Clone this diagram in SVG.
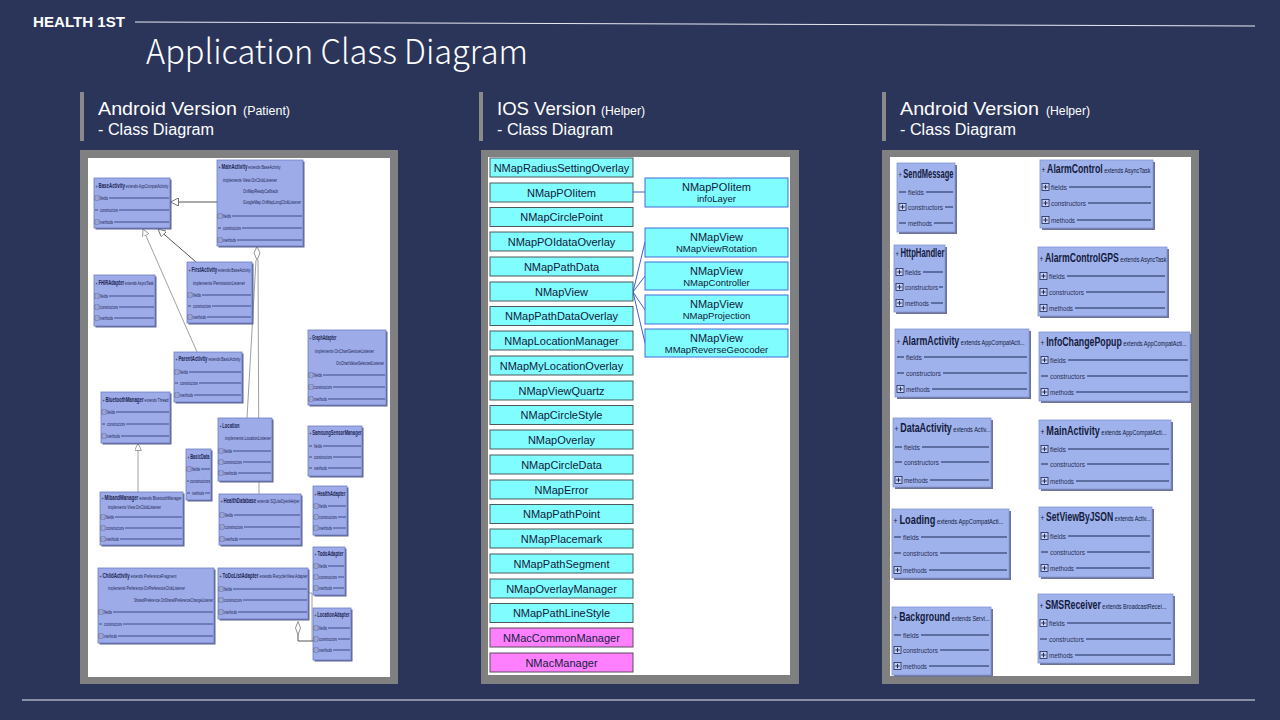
<svg xmlns="http://www.w3.org/2000/svg" width="1280" height="720" viewBox="0 0 1280 720">
<style>
.hd{font-family:"Noto Sans CJK KR","Noto Sans","Liberation Sans",sans-serif;fill:#ffffff}
.sec{font-family:"Liberation Sans",Arial,sans-serif;fill:#ffffff}
.frame{fill:#808080}
.paper{fill:#ffffff}
.bx{fill:#9dabe8;stroke:#6e7ec4;stroke-width:0.8}
.sh{fill:#5d6690}
.lh{font-family:"Liberation Sans",Arial,sans-serif;font-size:5px;fill:#1c2452}
.ln{font-weight:bold;font-size:6.3px}
.lr{font-family:"Liberation Sans",Arial,sans-serif;font-size:5px;fill:#1c2452}
.rl{stroke:#2b3674;stroke-width:0.8}
.rbx{fill:#9fb2ec;stroke:#8494d2;stroke-width:0.8}
.rsh{fill:#6c7397}
.rh{font-family:"Liberation Sans",Arial,sans-serif;font-size:7.5px;fill:#141a3c}
.rn{font-weight:bold;font-size:12px}
.rp{font-size:9px}
.rr{font-family:"Liberation Sans",Arial,sans-serif;font-size:7px;fill:#2a2f55}
.rrl{stroke:#1f2a55;stroke-width:1}
.cy{fill:#80fdff;stroke:#4a5a5c;stroke-width:1}
.mg{fill:#ff80ff;stroke:#5a4a5a;stroke-width:1}
.cyb{fill:#80fdff;stroke:#3f6fd8;stroke-width:1}
.mt{font-family:"Liberation Sans",Arial,sans-serif;font-size:11px;fill:#10203a;text-anchor:middle}
.mt2{font-family:"Liberation Sans",Arial,sans-serif;font-size:9.5px;fill:#10203a;text-anchor:middle}
.gen{stroke:#555;stroke-width:1;fill:none}
.gen2{stroke:#888;stroke-width:0.8;fill:none}
.blue{stroke:#3f5fd0;stroke-width:1;fill:none}
</style>
<defs>
<g id="mb"><rect x="0" y="0" width="4" height="4" fill="#c8d0f4" stroke="#2b3674" stroke-width="0.5"/><line x1="0.8" y1="2" x2="3.2" y2="2" stroke="#2b3674" stroke-width="0.6"/></g>
<g id="pb"><rect x="0" y="0" width="7" height="7" fill="#c8d2f6" stroke="#1f2a55" stroke-width="0.8"/><line x1="1.3" y1="3.5" x2="5.7" y2="3.5" stroke="#1f2a55" stroke-width="1"/><line x1="3.5" y1="1.3" x2="3.5" y2="5.7" stroke="#1f2a55" stroke-width="1"/></g>
<marker id="tri" viewBox="0 0 10 10" refX="10" refY="5" markerWidth="8" markerHeight="8" markerUnits="userSpaceOnUse" orient="auto"><path d="M0,0 L10,5 L0,10 Z" fill="#ffffff" stroke="#555" stroke-width="1"/></marker>
<marker id="tri2" viewBox="0 0 10 10" refX="10" refY="5" markerWidth="7" markerHeight="7" markerUnits="userSpaceOnUse" orient="auto"><path d="M0,0 L10,5 L0,10 Z" fill="#ffffff" stroke="#777" stroke-width="1"/></marker>
</defs>
<rect x="0" y="0" width="1280" height="720" fill="#2b355a"/>

<g id="header">
<text x="33" y="27" font-family="'Liberation Sans',Arial,sans-serif" font-weight="bold" font-size="15" fill="#ffffff" textLength="92" lengthAdjust="spacingAndGlyphs">HEALTH 1ST</text>
<line x1="135" y1="22" x2="1255" y2="26" stroke="#e8eaf2" stroke-width="1"/>
<text class="hd" x="146" y="64" font-size="34" font-weight="300" textLength="382" lengthAdjust="spacingAndGlyphs">Application Class Diagram</text>
<line x1="22" y1="700" x2="1255" y2="700" stroke="#e8eaf2" stroke-width="1"/>
</g>

<g id="sec-android-patient">
<rect x="80" y="92" width="4" height="49" fill="#8a8a8a"/>
<text class="sec" x="98" y="115" font-size="19" textLength="139" lengthAdjust="spacingAndGlyphs">Android Version</text>
<text class="sec" x="243" y="115" font-size="12" textLength="47" lengthAdjust="spacingAndGlyphs">(Patient)</text>
<text class="sec" x="98" y="135" font-size="16" textLength="116" lengthAdjust="spacingAndGlyphs">- Class Diagram</text>
</g>
<g id="sec-ios-helper">
<rect x="479" y="92" width="4" height="49" fill="#8a8a8a"/>
<text class="sec" x="497" y="115" font-size="19" textLength="99" lengthAdjust="spacingAndGlyphs">IOS Version</text>
<text class="sec" x="601" y="115" font-size="12" textLength="44" lengthAdjust="spacingAndGlyphs">(Helper)</text>
<text class="sec" x="497" y="135" font-size="16" textLength="116" lengthAdjust="spacingAndGlyphs">- Class Diagram</text>
</g>
<g id="sec-android-helper">
<rect x="882" y="92" width="4" height="49" fill="#8a8a8a"/>
<text class="sec" x="900" y="115" font-size="19" textLength="139" lengthAdjust="spacingAndGlyphs">Android Version</text>
<text class="sec" x="1046" y="115" font-size="12" textLength="44" lengthAdjust="spacingAndGlyphs">(Helper)</text>
<text class="sec" x="900" y="135" font-size="16" textLength="116" lengthAdjust="spacingAndGlyphs">- Class Diagram</text>
</g>

<g id="panels">
<rect class="frame" x="80" y="150" width="318" height="534"/>
<rect class="paper" x="88" y="158" width="302" height="519"/>
<rect class="frame" x="481" y="150" width="318" height="534"/>
<rect class="paper" x="488" y="157" width="302" height="518"/>
<rect class="frame" x="882" y="150" width="317" height="534"/>
<rect class="paper" x="890" y="157" width="301" height="519"/>
</g>

<g id="connectors">
<line class="gen" x1="217" y1="202" x2="170.5" y2="202" marker-end="url(#tri)"/>
<line class="gen" x1="196" y1="262" x2="158" y2="229" marker-end="url(#tri)"/>
<line class="gen2" x1="197" y1="352" x2="143" y2="229" marker-end="url(#tri2)"/>
<line class="gen2" x1="138" y1="492" x2="138" y2="443.5" marker-end="url(#tri2)"/>
<path class="gen2" d="M256,260 L247,418"/>
<path class="gen2" d="M258,260 L259,494"/>
<path d="M257,246.5 L260,253 L257,260 L254,253 Z" fill="#ffffff" stroke="#777" stroke-width="0.8"/>
<path class="gen2" d="M308,593 L312,593 L312,641 L313,641"/>
<path class="gen" d="M298,635 L298,641 L313,641"/>
<path d="M298,621.5 L300.5,628 L298,635 L295.5,628 Z" fill="#ffffff" stroke="#777" stroke-width="0.8"/>
<line class="blue" x1="633" y1="192" x2="645" y2="192"/>
<line class="blue" x1="633" y1="292" x2="645" y2="242"/>
<line class="blue" x1="633" y1="292" x2="645" y2="276"/>
<line class="blue" x1="633" y1="292" x2="645" y2="310"/>
<line class="blue" x1="633" y1="292" x2="645" y2="343"/>
</g>

<!-- LEFT PANEL -->
<g id="n-baseactivity">
<rect class="sh" x="95.5" y="179.5" width="76" height="50"/><rect class="bx" x="94" y="178" width="76" height="50"/>
<text class="lh" transform="translate(95.5 188) scale(0.68 1)" textLength="107" lengthAdjust="spacingAndGlyphs">+ <tspan class="ln">BaseActivity</tspan> extends AppCompatActivity</text>
<use href="#mb" x="95" y="196"/><text class="lr" transform="translate(100 199.8) scale(0.68 1)" textLength="11.8" lengthAdjust="spacingAndGlyphs">fields</text><line class="rl" x1="109" y1="198" x2="169" y2="198"/>
<line class="rl" x1="95" y1="210" x2="98" y2="210"/><text class="lr" transform="translate(100 211.8) scale(0.68 1)" textLength="26.5" lengthAdjust="spacingAndGlyphs">constructors</text><line class="rl" x1="119" y1="210" x2="169" y2="210"/>
<use href="#mb" x="95" y="220"/><text class="lr" transform="translate(100 223.8) scale(0.68 1)" textLength="19.1" lengthAdjust="spacingAndGlyphs">methods</text><line class="rl" x1="114" y1="222" x2="169" y2="222"/>
</g>

<g id="n-mainactivity">
<rect class="sh" x="218.5" y="161.5" width="86" height="86"/><rect class="bx" x="217" y="160" width="86" height="86"/>
<text class="lh" transform="translate(218.5 169) scale(0.68 1)" textLength="91.2" lengthAdjust="spacingAndGlyphs">+ <tspan class="ln">MainActivity</tspan> extends BaseActivity</text>
<text class="lh" transform="translate(223 182) scale(0.68 1)" textLength="79.4" lengthAdjust="spacingAndGlyphs">implements  View.OnClickListener</text>
<text class="lh" transform="translate(243 193) scale(0.68 1)" textLength="51.5" lengthAdjust="spacingAndGlyphs">OnMapReadyCallback</text>
<text class="lh" transform="translate(243 204) scale(0.68 1)" textLength="85.3" lengthAdjust="spacingAndGlyphs">GoogleMap.OnMapLongClickListener</text>
<use href="#mb" x="218" y="214"/><text class="lr" transform="translate(223 217.8) scale(0.68 1)" textLength="11.8" lengthAdjust="spacingAndGlyphs">fields</text><line class="rl" x1="232" y1="216" x2="302" y2="216"/>
<line class="rl" x1="218" y1="228" x2="221" y2="228"/><text class="lr" transform="translate(223 229.8) scale(0.68 1)" textLength="26.5" lengthAdjust="spacingAndGlyphs">constructors</text><line class="rl" x1="242" y1="228" x2="302" y2="228"/>
<use href="#mb" x="218" y="238"/><text class="lr" transform="translate(223 241.8) scale(0.68 1)" textLength="19.1" lengthAdjust="spacingAndGlyphs">methods</text><line class="rl" x1="237" y1="240" x2="302" y2="240"/>
</g>

<g id="n-fhiradapter">
<rect class="sh" x="95.5" y="276.5" width="61" height="51"/><rect class="bx" x="94" y="275" width="61" height="51"/>
<text class="lh" transform="translate(95.5 285) scale(0.68 1)" textLength="85.3" lengthAdjust="spacingAndGlyphs">+ <tspan class="ln">FHIRAdapter</tspan> extends AsyncTask</text>
<use href="#mb" x="95" y="294"/><text class="lr" transform="translate(100 297.8) scale(0.68 1)" textLength="11.8" lengthAdjust="spacingAndGlyphs">fields</text><line class="rl" x1="109" y1="296" x2="154" y2="296"/>
<use href="#mb" x="95" y="305"/><text class="lr" transform="translate(100 308.8) scale(0.68 1)" textLength="26.5" lengthAdjust="spacingAndGlyphs">constructors</text><line class="rl" x1="119" y1="307" x2="154" y2="307"/>
<use href="#mb" x="95" y="316"/><text class="lr" transform="translate(100 319.8) scale(0.68 1)" textLength="19.1" lengthAdjust="spacingAndGlyphs">methods</text><line class="rl" x1="114" y1="318" x2="154" y2="318"/>
</g>

<g id="n-firstactivity">
<rect class="sh" x="188.5" y="263.5" width="65" height="61"/><rect class="bx" x="187" y="262" width="65" height="61"/>
<text class="lh" transform="translate(188.5 272) scale(0.68 1)" textLength="91.2" lengthAdjust="spacingAndGlyphs">+ <tspan class="ln">FirstActivity</tspan> extends BaseActivity</text>
<text class="lh" transform="translate(193 285) scale(0.68 1)" textLength="76.5" lengthAdjust="spacingAndGlyphs">implements  PermissionListener</text>
<use href="#mb" x="188" y="293"/><text class="lr" transform="translate(193 296.8) scale(0.68 1)" textLength="11.8" lengthAdjust="spacingAndGlyphs">fields</text><line class="rl" x1="202" y1="295" x2="251" y2="295"/>
<line class="rl" x1="188" y1="306" x2="191" y2="306"/><text class="lr" transform="translate(193 307.8) scale(0.68 1)" textLength="26.5" lengthAdjust="spacingAndGlyphs">constructors</text><line class="rl" x1="212" y1="306" x2="251" y2="306"/>
<use href="#mb" x="188" y="315"/><text class="lr" transform="translate(193 318.8) scale(0.68 1)" textLength="19.1" lengthAdjust="spacingAndGlyphs">methods</text><line class="rl" x1="207" y1="317" x2="251" y2="317"/>
</g>

<g id="n-parentactivity">
<rect class="sh" x="175.5" y="353.5" width="68" height="50"/><rect class="bx" x="174" y="352" width="68" height="50"/>
<text class="lh" transform="translate(175.5 361) scale(0.68 1)" textLength="95.6" lengthAdjust="spacingAndGlyphs">+ <tspan class="ln">ParentActivity</tspan> extends BasicActivity</text>
<use href="#mb" x="175" y="370"/><text class="lr" transform="translate(180 373.8) scale(0.68 1)" textLength="11.8" lengthAdjust="spacingAndGlyphs">fields</text><line class="rl" x1="189" y1="372" x2="241" y2="372"/>
<line class="rl" x1="175" y1="383" x2="178" y2="383"/><text class="lr" transform="translate(180 384.8) scale(0.68 1)" textLength="26.5" lengthAdjust="spacingAndGlyphs">constructors</text><line class="rl" x1="199" y1="383" x2="241" y2="383"/>
<use href="#mb" x="175" y="393"/><text class="lr" transform="translate(180 396.8) scale(0.68 1)" textLength="19.1" lengthAdjust="spacingAndGlyphs">methods</text><line class="rl" x1="194" y1="395" x2="241" y2="395"/>
</g>

<g id="n-bluetoothmanager">
<rect class="sh" x="102.5" y="393.5" width="69" height="51"/><rect class="bx" x="101" y="392" width="69" height="51"/>
<text class="lh" transform="translate(102.5 402) scale(0.68 1)" textLength="97" lengthAdjust="spacingAndGlyphs">+ <tspan class="ln">BluetoothManager</tspan> extends Thread</text>
<use href="#mb" x="102" y="410"/><text class="lr" transform="translate(107 413.8) scale(0.68 1)" textLength="11.8" lengthAdjust="spacingAndGlyphs">fields</text><line class="rl" x1="116" y1="412" x2="169" y2="412"/>
<line class="rl" x1="102" y1="424" x2="105" y2="424"/><text class="lr" transform="translate(107 425.8) scale(0.68 1)" textLength="26.5" lengthAdjust="spacingAndGlyphs">constructors</text><line class="rl" x1="126" y1="424" x2="169" y2="424"/>
<use href="#mb" x="102" y="434"/><text class="lr" transform="translate(107 437.8) scale(0.68 1)" textLength="19.1" lengthAdjust="spacingAndGlyphs">methods</text><line class="rl" x1="121" y1="436" x2="169" y2="436"/>
</g>

<g id="n-graphadapter">
<rect class="sh" x="309.5" y="331.5" width="78" height="75"/><rect class="bx" x="308" y="330" width="78" height="75"/>
<text class="lh" transform="translate(309.5 340) scale(0.68 1)" textLength="39.7" lengthAdjust="spacingAndGlyphs">+ <tspan class="ln">GraphAdapter</tspan></text>
<text class="lh" transform="translate(315 353) scale(0.68 1)" textLength="86.8" lengthAdjust="spacingAndGlyphs">implements  OnChartGestureListener</text>
<text class="lh" transform="translate(336 365) scale(0.68 1)" textLength="70.6" lengthAdjust="spacingAndGlyphs">OnChartValueSelectedListener</text>
<use href="#mb" x="309" y="373"/><text class="lr" transform="translate(314 376.8) scale(0.68 1)" textLength="11.8" lengthAdjust="spacingAndGlyphs">fields</text><line class="rl" x1="323" y1="375" x2="385" y2="375"/>
<use href="#mb" x="309" y="385"/><text class="lr" transform="translate(314 388.8) scale(0.68 1)" textLength="26.5" lengthAdjust="spacingAndGlyphs">constructors</text><line class="rl" x1="333" y1="387" x2="385" y2="387"/>
<use href="#mb" x="309" y="397"/><text class="lr" transform="translate(314 400.8) scale(0.68 1)" textLength="19.1" lengthAdjust="spacingAndGlyphs">methods</text><line class="rl" x1="328" y1="399" x2="385" y2="399"/>
</g>

<g id="n-samsungsensormanager">
<rect class="sh" x="309.5" y="427.5" width="54" height="50"/><rect class="bx" x="308" y="426" width="54" height="50"/>
<text class="lh" transform="translate(309.5 435) scale(0.68 1)" textLength="76.5" lengthAdjust="spacingAndGlyphs">+ <tspan class="ln">SamsungSensorManager</tspan></text>
<line class="rl" x1="309" y1="446" x2="312" y2="446"/><text class="lr" transform="translate(314 447.8) scale(0.68 1)" textLength="11.8" lengthAdjust="spacingAndGlyphs">fields</text><line class="rl" x1="323" y1="446" x2="361" y2="446"/>
<line class="rl" x1="309" y1="457" x2="312" y2="457"/><text class="lr" transform="translate(314 458.8) scale(0.68 1)" textLength="26.5" lengthAdjust="spacingAndGlyphs">constructors</text><line class="rl" x1="333" y1="457" x2="361" y2="457"/>
<line class="rl" x1="309" y1="468" x2="312" y2="468"/><text class="lr" transform="translate(314 469.8) scale(0.68 1)" textLength="19.1" lengthAdjust="spacingAndGlyphs">methods</text><line class="rl" x1="328" y1="468" x2="361" y2="468"/>
</g>

<g id="n-location">
<rect class="sh" x="219.5" y="419.5" width="54" height="63"/><rect class="bx" x="218" y="418" width="54" height="63"/>
<text class="lh" transform="translate(219.5 428) scale(0.68 1)" textLength="29.4" lengthAdjust="spacingAndGlyphs">+ <tspan class="ln">Location</tspan></text>
<text class="lh" transform="translate(225 440) scale(0.68 1)" textLength="67.6" lengthAdjust="spacingAndGlyphs">implements  LocationListener</text>
<use href="#mb" x="219" y="449"/><text class="lr" transform="translate(224 452.8) scale(0.68 1)" textLength="11.8" lengthAdjust="spacingAndGlyphs">fields</text><line class="rl" x1="233" y1="451" x2="271" y2="451"/>
<use href="#mb" x="219" y="460"/><text class="lr" transform="translate(224 463.8) scale(0.68 1)" textLength="26.5" lengthAdjust="spacingAndGlyphs">constructors</text><line class="rl" x1="243" y1="462" x2="271" y2="462"/>
<use href="#mb" x="219" y="471"/><text class="lr" transform="translate(224 474.8) scale(0.68 1)" textLength="19.1" lengthAdjust="spacingAndGlyphs">methods</text><line class="rl" x1="238" y1="473" x2="271" y2="473"/>
</g>

<g id="n-basicdata">
<rect class="sh" x="187.5" y="450.5" width="25" height="51"/><rect class="bx" x="186" y="449" width="25" height="51"/>
<text class="lh" transform="translate(187.5 459) scale(0.68 1)" textLength="32.4" lengthAdjust="spacingAndGlyphs">+ <tspan class="ln">BasicData</tspan></text>
<use href="#mb" x="187" y="467"/><text class="lr" transform="translate(192 470.8) scale(0.68 1)" textLength="11.8" lengthAdjust="spacingAndGlyphs">fields</text><line class="rl" x1="201" y1="469" x2="210" y2="469"/>
<line class="rl" x1="187" y1="481" x2="189" y2="481"/><text class="lr" transform="translate(190 482.8) scale(0.68 1)" textLength="29.4" lengthAdjust="spacingAndGlyphs">constructors</text>
<line class="rl" x1="187" y1="493" x2="190" y2="493"/><text class="lr" transform="translate(192 494.8) scale(0.68 1)" textLength="17.6" lengthAdjust="spacingAndGlyphs">methods</text><line class="rl" x1="205" y1="493" x2="210" y2="493"/>
</g>

<g id="n-mibandmanager">
<rect class="sh" x="101.5" y="493.5" width="83" height="53"/><rect class="bx" x="100" y="492" width="83" height="53"/>
<text class="lh" transform="translate(101.5 500) scale(0.68 1)" textLength="117.6" lengthAdjust="spacingAndGlyphs">+ <tspan class="ln">MibandManager</tspan> extends BluetoothManager</text>
<text class="lh" transform="translate(108 509) scale(0.68 1)" textLength="78" lengthAdjust="spacingAndGlyphs">implements  View.OnClickListener</text>
<use href="#mb" x="101" y="515"/><text class="lr" transform="translate(106 518.8) scale(0.68 1)" textLength="11.8" lengthAdjust="spacingAndGlyphs">fields</text><line class="rl" x1="115" y1="517" x2="182" y2="517"/>
<use href="#mb" x="101" y="526"/><text class="lr" transform="translate(106 529.8) scale(0.68 1)" textLength="26.5" lengthAdjust="spacingAndGlyphs">constructors</text><line class="rl" x1="125" y1="528" x2="182" y2="528"/>
<use href="#mb" x="101" y="537"/><text class="lr" transform="translate(106 540.8) scale(0.68 1)" textLength="19.1" lengthAdjust="spacingAndGlyphs">methods</text><line class="rl" x1="120" y1="539" x2="182" y2="539"/>
</g>

<g id="n-healthdatabase">
<rect class="sh" x="220.5" y="495.5" width="82" height="51"/><rect class="bx" x="219" y="494" width="82" height="51"/>
<text class="lh" transform="translate(220.5 503) scale(0.68 1)" textLength="116.2" lengthAdjust="spacingAndGlyphs">+ <tspan class="ln">HealthDatabase</tspan> extends SQLiteOpenHelper</text>
<use href="#mb" x="220" y="513"/><text class="lr" transform="translate(225 516.8) scale(0.68 1)" textLength="11.8" lengthAdjust="spacingAndGlyphs">fields</text><line class="rl" x1="234" y1="515" x2="300" y2="515"/>
<use href="#mb" x="220" y="525"/><text class="lr" transform="translate(225 528.8) scale(0.68 1)" textLength="26.5" lengthAdjust="spacingAndGlyphs">constructors</text><line class="rl" x1="244" y1="527" x2="300" y2="527"/>
<use href="#mb" x="220" y="537"/><text class="lr" transform="translate(225 540.8) scale(0.68 1)" textLength="19.1" lengthAdjust="spacingAndGlyphs">methods</text><line class="rl" x1="239" y1="539" x2="300" y2="539"/>
</g>

<g id="n-healthadapter">
<rect class="sh" x="314.5" y="487.5" width="34" height="49"/><rect class="bx" x="313" y="486" width="34" height="49"/>
<text class="lh" transform="translate(314.5 496) scale(0.68 1)" textLength="45.6" lengthAdjust="spacingAndGlyphs">+ <tspan class="ln">HealthAdapter</tspan></text>
<use href="#mb" x="314" y="504"/><text class="lr" transform="translate(319 507.8) scale(0.68 1)" textLength="11.8" lengthAdjust="spacingAndGlyphs">fields</text><line class="rl" x1="328" y1="506" x2="346" y2="506"/>
<use href="#mb" x="314" y="515"/><text class="lr" transform="translate(319 518.8) scale(0.68 1)" textLength="26.5" lengthAdjust="spacingAndGlyphs">constructors</text><line class="rl" x1="338" y1="517" x2="346" y2="517"/>
<use href="#mb" x="314" y="526"/><text class="lr" transform="translate(319 529.8) scale(0.68 1)" textLength="19.1" lengthAdjust="spacingAndGlyphs">methods</text><line class="rl" x1="333" y1="528" x2="346" y2="528"/>
</g>

<g id="n-todoadapter">
<rect class="sh" x="314.5" y="548.5" width="32" height="48"/><rect class="bx" x="313" y="547" width="32" height="48"/>
<text class="lh" transform="translate(314.5 556) scale(0.68 1)" textLength="42.6" lengthAdjust="spacingAndGlyphs">+ <tspan class="ln">TodoAdapter</tspan></text>
<use href="#mb" x="314" y="564"/><text class="lr" transform="translate(319 567.8) scale(0.68 1)" textLength="11.8" lengthAdjust="spacingAndGlyphs">fields</text><line class="rl" x1="328" y1="566" x2="344" y2="566"/>
<use href="#mb" x="314" y="575"/><text class="lr" transform="translate(319 578.8) scale(0.68 1)" textLength="26.5" lengthAdjust="spacingAndGlyphs">constructors</text><line class="rl" x1="338" y1="577" x2="344" y2="577"/>
<use href="#mb" x="314" y="586"/><text class="lr" transform="translate(319 589.8) scale(0.68 1)" textLength="19.1" lengthAdjust="spacingAndGlyphs">methods</text><line class="rl" x1="333" y1="588" x2="344" y2="588"/>
</g>

<g id="n-locationadapter">
<rect class="sh" x="314.5" y="609.5" width="38" height="52"/><rect class="bx" x="313" y="608" width="38" height="52"/>
<text class="lh" transform="translate(314.5 617) scale(0.68 1)" textLength="51.5" lengthAdjust="spacingAndGlyphs">+ <tspan class="ln">LocationAdapter</tspan></text>
<use href="#mb" x="314" y="626"/><text class="lr" transform="translate(319 629.8) scale(0.68 1)" textLength="11.8" lengthAdjust="spacingAndGlyphs">fields</text><line class="rl" x1="328" y1="628" x2="350" y2="628"/>
<use href="#mb" x="314" y="637"/><text class="lr" transform="translate(319 640.8) scale(0.68 1)" textLength="26.5" lengthAdjust="spacingAndGlyphs">constructors</text><line class="rl" x1="338" y1="639" x2="350" y2="639"/>
<use href="#mb" x="314" y="648"/><text class="lr" transform="translate(319 651.8) scale(0.68 1)" textLength="19.1" lengthAdjust="spacingAndGlyphs">methods</text><line class="rl" x1="333" y1="650" x2="350" y2="650"/>
</g>

<g id="n-childactivity">
<rect class="sh" x="99.5" y="569.5" width="116" height="75"/><rect class="bx" x="98" y="568" width="116" height="75"/>
<text class="lh" transform="translate(99.5 578) scale(0.68 1)" textLength="113.2" lengthAdjust="spacingAndGlyphs">+ <tspan class="ln">ChildActivity</tspan> extends PreferenceFragment</text>
<text class="lh" transform="translate(108 590) scale(0.68 1)" textLength="113.2" lengthAdjust="spacingAndGlyphs">implements  Preference.OnPreferenceClickListener</text>
<text class="lh" transform="translate(134 602) scale(0.68 1)" textLength="116.2" lengthAdjust="spacingAndGlyphs">SharedPreference.OnSharedPreferenceChangeListener</text>
<use href="#mb" x="99" y="610"/><text class="lr" transform="translate(104 613.8) scale(0.68 1)" textLength="11.8" lengthAdjust="spacingAndGlyphs">fields</text><line class="rl" x1="113" y1="612" x2="213" y2="612"/>
<line class="rl" x1="99" y1="624" x2="102" y2="624"/><text class="lr" transform="translate(104 625.8) scale(0.68 1)" textLength="26.5" lengthAdjust="spacingAndGlyphs">constructors</text><line class="rl" x1="123" y1="624" x2="213" y2="624"/>
<use href="#mb" x="99" y="634"/><text class="lr" transform="translate(104 637.8) scale(0.68 1)" textLength="19.1" lengthAdjust="spacingAndGlyphs">methods</text><line class="rl" x1="118" y1="636" x2="213" y2="636"/>
</g>

<g id="n-todolistadapter">
<rect class="sh" x="219.5" y="569.5" width="90" height="51"/><rect class="bx" x="218" y="568" width="90" height="51"/>
<text class="lh" transform="translate(219.5 578) scale(0.68 1)" textLength="129.4" lengthAdjust="spacingAndGlyphs">+ <tspan class="ln">ToDoListAdapter</tspan> extends RecyclerView.Adapter</text>
<use href="#mb" x="219" y="587"/><text class="lr" transform="translate(224 590.8) scale(0.68 1)" textLength="11.8" lengthAdjust="spacingAndGlyphs">fields</text><line class="rl" x1="233" y1="589" x2="307" y2="589"/>
<use href="#mb" x="219" y="598"/><text class="lr" transform="translate(224 601.8) scale(0.68 1)" textLength="26.5" lengthAdjust="spacingAndGlyphs">constructors</text><line class="rl" x1="243" y1="600" x2="307" y2="600"/>
<use href="#mb" x="219" y="610"/><text class="lr" transform="translate(224 613.8) scale(0.68 1)" textLength="19.1" lengthAdjust="spacingAndGlyphs">methods</text><line class="rl" x1="238" y1="612" x2="307" y2="612"/>
</g>

<!-- MIDDLE PANEL -->
<g id="n-nmapradiussettingoverlay"><rect class="cy" x="490" y="158" width="143" height="19"/><text class="mt" x="561.5" y="171.5">NMapRadiusSettingOverlay</text></g>
<g id="n-nmappoiitem"><rect class="cy" x="490" y="183" width="143" height="19"/><text class="mt" x="561.5" y="196.5">NMapPOIitem</text></g>
<g id="n-nmapcirclepoint"><rect class="cy" x="490" y="207.5" width="143" height="19"/><text class="mt" x="561.5" y="221">NMapCirclePoint</text></g>
<g id="n-nmappoidataoverlay"><rect class="cy" x="490" y="232" width="143" height="19"/><text class="mt" x="561.5" y="245.5">NMapPOIdataOverlay</text></g>
<g id="n-nmappathdata"><rect class="cy" x="490" y="257" width="143" height="19"/><text class="mt" x="561.5" y="270.5">NMapPathData</text></g>
<g id="n-nmapview"><rect class="cy" x="490" y="282" width="143" height="19"/><text class="mt" x="561.5" y="295.5">NMapView</text></g>
<g id="n-nmappathdataoverlay"><rect class="cy" x="490" y="306.5" width="143" height="19"/><text class="mt" x="561.5" y="320">NMapPathDataOverlay</text></g>
<g id="n-nmaplocationmanager"><rect class="cy" x="490" y="331" width="143" height="19"/><text class="mt" x="561.5" y="344.5">NMapLocationManager</text></g>
<g id="n-nmapmylocationoverlay"><rect class="cy" x="490" y="356" width="143" height="19"/><text class="mt" x="561.5" y="369.5">NMapMyLocationOverlay</text></g>
<g id="n-nmapviewquartz"><rect class="cy" x="490" y="381" width="143" height="19"/><text class="mt" x="561.5" y="394.5">NMapViewQuartz</text></g>
<g id="n-nmapcirclestyle"><rect class="cy" x="490" y="405.5" width="143" height="19"/><text class="mt" x="561.5" y="419">NMapCircleStyle</text></g>
<g id="n-nmapoverlay"><rect class="cy" x="490" y="430" width="143" height="19"/><text class="mt" x="561.5" y="443.5">NMapOverlay</text></g>
<g id="n-nmapcircledata"><rect class="cy" x="490" y="455" width="143" height="19"/><text class="mt" x="561.5" y="468.5">NMapCircleData</text></g>
<g id="n-nmaperror"><rect class="cy" x="490" y="480" width="143" height="19"/><text class="mt" x="561.5" y="493.5">NMapError</text></g>
<g id="n-nmappathpoint"><rect class="cy" x="490" y="504.5" width="143" height="19"/><text class="mt" x="561.5" y="518">NMapPathPoint</text></g>
<g id="n-nmapplacemark"><rect class="cy" x="490" y="529" width="143" height="19"/><text class="mt" x="561.5" y="542.5">NMapPlacemark</text></g>
<g id="n-nmappathsegment"><rect class="cy" x="490" y="554" width="143" height="19"/><text class="mt" x="561.5" y="567.5">NMapPathSegment</text></g>
<g id="n-nmapoverlaymanager"><rect class="cy" x="490" y="579" width="143" height="19"/><text class="mt" x="561.5" y="592.5">NMapOverlayManager</text></g>
<g id="n-nmappathlinestyle"><rect class="cy" x="490" y="603.5" width="143" height="19"/><text class="mt" x="561.5" y="617">NMapPathLineStyle</text></g>
<g id="n-nmaccommonmanager"><rect class="mg" x="490" y="628" width="143" height="19"/><text class="mt" x="561.5" y="641.5">NMacCommonManager</text></g>
<g id="n-nmacmanager"><rect class="mg" x="490" y="653" width="143" height="19"/><text class="mt" x="561.5" y="666.5">NMacManager</text></g>

<g id="n-nmappoiitem-infolayer"><rect class="cyb" x="645" y="178" width="143" height="29"/><text class="mt" x="716.5" y="191">NMapPOIitem</text><text class="mt2" x="716.5" y="202">infoLayer</text></g>
<g id="n-nmapview-rotation"><rect class="cyb" x="645" y="228" width="143" height="29"/><text class="mt" x="716.5" y="241">NMapView</text><text class="mt2" x="716.5" y="252">NMapViewRotation</text></g>
<g id="n-nmapview-controller"><rect class="cyb" x="645" y="262" width="143" height="28"/><text class="mt" x="716.5" y="274.5">NMapView</text><text class="mt2" x="716.5" y="285.5">NMapController</text></g>
<g id="n-nmapview-projection"><rect class="cyb" x="645" y="295" width="143" height="29"/><text class="mt" x="716.5" y="308">NMapView</text><text class="mt2" x="716.5" y="319">NMapProjection</text></g>
<g id="n-nmapview-geocoder"><rect class="cyb" x="645" y="329" width="143" height="28"/><text class="mt" x="716.5" y="341.5">NMapView</text><text class="mt2" x="716.5" y="352.5">MMapReverseGeocoder</text></g>

<!-- RIGHT PANEL -->
<g id="n-sendmessage">
<rect class="rsh" x="899" y="165" width="58" height="69"/><rect class="rbx" x="897" y="163" width="58" height="69"/>
<text class="rh" transform="translate(898.5 178) scale(0.7 1)" textLength="78.6" lengthAdjust="spacingAndGlyphs"><tspan class="rp">+ </tspan><tspan class="rn">SendMessage</tspan></text>
<line class="rrl" x1="899" y1="192" x2="906" y2="192"/><text class="rr" x="908" y="194.6" textLength="16" lengthAdjust="spacingAndGlyphs">fields</text><line class="rrl" x1="926" y1="192" x2="953" y2="192"/>
<use href="#pb" x="899" y="203.5"/><text class="rr" x="908" y="209.6" textLength="35" lengthAdjust="spacingAndGlyphs">constructors</text><line class="rrl" x1="945" y1="207" x2="953" y2="207"/>
<line class="rrl" x1="899" y1="223" x2="906" y2="223"/><text class="rr" x="908" y="225.6" textLength="24" lengthAdjust="spacingAndGlyphs">methods</text><line class="rrl" x1="934" y1="223" x2="953" y2="223"/>
</g>

<g id="n-httphandler">
<rect class="rsh" x="896" y="247" width="51" height="67"/><rect class="rbx" x="894" y="245" width="51" height="67"/>
<text class="rh" transform="translate(895.5 257) scale(0.7 1)" textLength="70" lengthAdjust="spacingAndGlyphs"><tspan class="rp">+ </tspan><tspan class="rn">HttpHandler</tspan></text>
<use href="#pb" x="896" y="268.5"/><text class="rr" x="905" y="274.6" textLength="16" lengthAdjust="spacingAndGlyphs">fields</text><line class="rrl" x1="923" y1="272" x2="943" y2="272"/>
<use href="#pb" x="896" y="283.5"/><text class="rr" x="905" y="289.6" textLength="33" lengthAdjust="spacingAndGlyphs">constructors</text><line class="rrl" x1="939" y1="287" x2="943" y2="287"/>
<use href="#pb" x="896" y="299.5"/><text class="rr" x="905" y="305.6" textLength="24" lengthAdjust="spacingAndGlyphs">methods</text><line class="rrl" x1="931" y1="303" x2="943" y2="303"/>
</g>

<g id="n-alarmcontrol">
<rect class="rsh" x="1042" y="162" width="113" height="68"/><rect class="rbx" x="1040" y="160" width="113" height="68"/>
<text class="rh" transform="translate(1041.5 173) scale(0.7 1)" textLength="155.7" lengthAdjust="spacingAndGlyphs"><tspan class="rp">+ </tspan><tspan class="rn">AlarmControl</tspan> extends AsyncTask</text>
<use href="#pb" x="1042" y="183.5"/><text class="rr" x="1051" y="189.6" textLength="16" lengthAdjust="spacingAndGlyphs">fields</text><line class="rrl" x1="1069" y1="187" x2="1151" y2="187"/>
<use href="#pb" x="1042" y="199.5"/><text class="rr" x="1051" y="205.6" textLength="35" lengthAdjust="spacingAndGlyphs">constructors</text><line class="rrl" x1="1088" y1="203" x2="1151" y2="203"/>
<use href="#pb" x="1042" y="216.5"/><text class="rr" x="1051" y="222.6" textLength="24" lengthAdjust="spacingAndGlyphs">methods</text><line class="rrl" x1="1077" y1="220" x2="1151" y2="220"/>
</g>

<g id="n-alarmcontrolgps">
<rect class="rsh" x="1040" y="249" width="129" height="69"/><rect class="rbx" x="1038" y="247" width="129" height="69"/>
<text class="rh" transform="translate(1039.5 262) scale(0.7 1)" textLength="181.4" lengthAdjust="spacingAndGlyphs"><tspan class="rp">+ </tspan><tspan class="rn">AlarmControlGPS</tspan> extends AsyncTask</text>
<use href="#pb" x="1040" y="272.5"/><text class="rr" x="1049" y="278.6" textLength="16" lengthAdjust="spacingAndGlyphs">fields</text><line class="rrl" x1="1067" y1="276" x2="1165" y2="276"/>
<use href="#pb" x="1040" y="288.5"/><text class="rr" x="1049" y="294.6" textLength="35" lengthAdjust="spacingAndGlyphs">constructors</text><line class="rrl" x1="1086" y1="292" x2="1165" y2="292"/>
<use href="#pb" x="1040" y="304.5"/><text class="rr" x="1049" y="310.6" textLength="24" lengthAdjust="spacingAndGlyphs">methods</text><line class="rrl" x1="1075" y1="308" x2="1165" y2="308"/>
</g>

<g id="n-alarmactivity">
<rect class="rsh" x="897" y="331" width="134" height="68"/><rect class="rbx" x="895" y="329" width="134" height="68"/>
<text class="rh" transform="translate(896.5 345) scale(0.7 1)" textLength="182.9" lengthAdjust="spacingAndGlyphs"><tspan class="rp">+ </tspan><tspan class="rn">AlarmActivity</tspan> extends AppCompatActi...</text>
<line class="rrl" x1="897" y1="357" x2="904" y2="357"/><text class="rr" x="906" y="359.6" textLength="16" lengthAdjust="spacingAndGlyphs">fields</text><line class="rrl" x1="924" y1="357" x2="1027" y2="357"/>
<line class="rrl" x1="897" y1="373" x2="904" y2="373"/><text class="rr" x="906" y="375.6" textLength="35" lengthAdjust="spacingAndGlyphs">constructors</text><line class="rrl" x1="943" y1="373" x2="1027" y2="373"/>
<use href="#pb" x="897" y="385.5"/><text class="rr" x="906" y="391.6" textLength="24" lengthAdjust="spacingAndGlyphs">methods</text><line class="rrl" x1="932" y1="389" x2="1027" y2="389"/>
</g>

<g id="n-infochangepopup">
<rect class="rsh" x="1041" y="334" width="151" height="69"/><rect class="rbx" x="1039" y="332" width="151" height="69"/>
<text class="rh" transform="translate(1040.5 346) scale(0.7 1)" textLength="208.6" lengthAdjust="spacingAndGlyphs"><tspan class="rp">+ </tspan><tspan class="rn">InfoChangePopup</tspan> extends AppCompatActi...</text>
<use href="#pb" x="1041" y="356.5"/><text class="rr" x="1050" y="362.6" textLength="16" lengthAdjust="spacingAndGlyphs">fields</text><line class="rrl" x1="1068" y1="360" x2="1188" y2="360"/>
<line class="rrl" x1="1041" y1="376" x2="1048" y2="376"/><text class="rr" x="1050" y="378.6" textLength="35" lengthAdjust="spacingAndGlyphs">constructors</text><line class="rrl" x1="1087" y1="376" x2="1188" y2="376"/>
<use href="#pb" x="1041" y="388.5"/><text class="rr" x="1050" y="394.6" textLength="24" lengthAdjust="spacingAndGlyphs">methods</text><line class="rrl" x1="1076" y1="392" x2="1188" y2="392"/>
</g>

<g id="n-dataactivity">
<rect class="rsh" x="895" y="420" width="98" height="69"/><rect class="rbx" x="893" y="418" width="98" height="69"/>
<text class="rh" transform="translate(894.5 432) scale(0.7 1)" textLength="137.1" lengthAdjust="spacingAndGlyphs"><tspan class="rp">+ </tspan><tspan class="rn">DataActivity</tspan> extends Activ...</text>
<line class="rrl" x1="895" y1="447" x2="902" y2="447"/><text class="rr" x="904" y="449.6" textLength="16" lengthAdjust="spacingAndGlyphs">fields</text><line class="rrl" x1="922" y1="447" x2="989" y2="447"/>
<line class="rrl" x1="895" y1="462" x2="902" y2="462"/><text class="rr" x="904" y="464.6" textLength="35" lengthAdjust="spacingAndGlyphs">constructors</text><line class="rrl" x1="941" y1="462" x2="989" y2="462"/>
<use href="#pb" x="895" y="476.5"/><text class="rr" x="904" y="482.6" textLength="24" lengthAdjust="spacingAndGlyphs">methods</text><line class="rrl" x1="930" y1="480" x2="989" y2="480"/>
</g>

<g id="n-mainactivity-helper">
<rect class="rsh" x="1041" y="422" width="132" height="69"/><rect class="rbx" x="1039" y="420" width="132" height="69"/>
<text class="rh" transform="translate(1040.5 435) scale(0.7 1)" textLength="180" lengthAdjust="spacingAndGlyphs"><tspan class="rp">+ </tspan><tspan class="rn">MainActivity</tspan> extends AppCompatActi...</text>
<use href="#pb" x="1041" y="445.5"/><text class="rr" x="1050" y="451.6" textLength="16" lengthAdjust="spacingAndGlyphs">fields</text><line class="rrl" x1="1068" y1="449" x2="1169" y2="449"/>
<line class="rrl" x1="1041" y1="464" x2="1048" y2="464"/><text class="rr" x="1050" y="466.6" textLength="35" lengthAdjust="spacingAndGlyphs">constructors</text><line class="rrl" x1="1087" y1="464" x2="1169" y2="464"/>
<use href="#pb" x="1041" y="477.5"/><text class="rr" x="1050" y="483.6" textLength="24" lengthAdjust="spacingAndGlyphs">methods</text><line class="rrl" x1="1076" y1="481" x2="1169" y2="481"/>
</g>

<g id="n-loading">
<rect class="rsh" x="894" y="511" width="117" height="69"/><rect class="rbx" x="892" y="509" width="117" height="69"/>
<text class="rh" transform="translate(893.5 524) scale(0.7 1)" textLength="157.1" lengthAdjust="spacingAndGlyphs"><tspan class="rp">+ </tspan><tspan class="rn">Loading</tspan> extends AppCompatActi...</text>
<line class="rrl" x1="894" y1="537" x2="901" y2="537"/><text class="rr" x="903" y="539.6" textLength="16" lengthAdjust="spacingAndGlyphs">fields</text><line class="rrl" x1="921" y1="537" x2="1007" y2="537"/>
<line class="rrl" x1="894" y1="553" x2="901" y2="553"/><text class="rr" x="903" y="555.6" textLength="35" lengthAdjust="spacingAndGlyphs">constructors</text><line class="rrl" x1="940" y1="553" x2="1007" y2="553"/>
<use href="#pb" x="894" y="566.5"/><text class="rr" x="903" y="572.6" textLength="24" lengthAdjust="spacingAndGlyphs">methods</text><line class="rrl" x1="929" y1="570" x2="1007" y2="570"/>
</g>

<g id="n-setviewbyjson">
<rect class="rsh" x="1041" y="509" width="113" height="70"/><rect class="rbx" x="1039" y="507" width="113" height="70"/>
<text class="rh" transform="translate(1040.5 521) scale(0.7 1)" textLength="157.1" lengthAdjust="spacingAndGlyphs"><tspan class="rp">+ </tspan><tspan class="rn">SetViewByJSON</tspan> extends Activ...</text>
<use href="#pb" x="1041" y="532.5"/><text class="rr" x="1050" y="538.6" textLength="16" lengthAdjust="spacingAndGlyphs">fields</text><line class="rrl" x1="1068" y1="536" x2="1150" y2="536"/>
<line class="rrl" x1="1041" y1="552" x2="1048" y2="552"/><text class="rr" x="1050" y="554.6" textLength="35" lengthAdjust="spacingAndGlyphs">constructors</text><line class="rrl" x1="1087" y1="552" x2="1150" y2="552"/>
<use href="#pb" x="1041" y="564.5"/><text class="rr" x="1050" y="570.6" textLength="24" lengthAdjust="spacingAndGlyphs">methods</text><line class="rrl" x1="1076" y1="568" x2="1150" y2="568"/>
</g>

<g id="n-background">
<rect class="rsh" x="894" y="609" width="99" height="68"/><rect class="rbx" x="892" y="607" width="99" height="68"/>
<text class="rh" transform="translate(893.5 621) scale(0.7 1)" textLength="137.1" lengthAdjust="spacingAndGlyphs"><tspan class="rp">+ </tspan><tspan class="rn">Background</tspan> extends Servi...</text>
<line class="rrl" x1="894" y1="635" x2="901" y2="635"/><text class="rr" x="903" y="637.6" textLength="16" lengthAdjust="spacingAndGlyphs">fields</text><line class="rrl" x1="921" y1="635" x2="989" y2="635"/>
<use href="#pb" x="894" y="646.5"/><text class="rr" x="903" y="652.6" textLength="35" lengthAdjust="spacingAndGlyphs">constructors</text><line class="rrl" x1="940" y1="650" x2="989" y2="650"/>
<use href="#pb" x="894" y="662.5"/><text class="rr" x="903" y="668.6" textLength="24" lengthAdjust="spacingAndGlyphs">methods</text><line class="rrl" x1="929" y1="666" x2="989" y2="666"/>
</g>

<g id="n-smsreceiver">
<rect class="rsh" x="1040" y="596" width="135" height="69"/><rect class="rbx" x="1038" y="594" width="135" height="69"/>
<text class="rh" transform="translate(1039.5 609) scale(0.7 1)" textLength="181.4" lengthAdjust="spacingAndGlyphs"><tspan class="rp">+ </tspan><tspan class="rn">SMSReceiver</tspan> extends BroadcastRecei...</text>
<use href="#pb" x="1040" y="619.5"/><text class="rr" x="1049" y="625.6" textLength="16" lengthAdjust="spacingAndGlyphs">fields</text><line class="rrl" x1="1067" y1="623" x2="1171" y2="623"/>
<line class="rrl" x1="1040" y1="639" x2="1047" y2="639"/><text class="rr" x="1049" y="641.6" textLength="35" lengthAdjust="spacingAndGlyphs">constructors</text><line class="rrl" x1="1086" y1="639" x2="1171" y2="639"/>
<use href="#pb" x="1040" y="651.5"/><text class="rr" x="1049" y="657.6" textLength="24" lengthAdjust="spacingAndGlyphs">methods</text><line class="rrl" x1="1075" y1="655" x2="1171" y2="655"/>
</g>
</svg>
